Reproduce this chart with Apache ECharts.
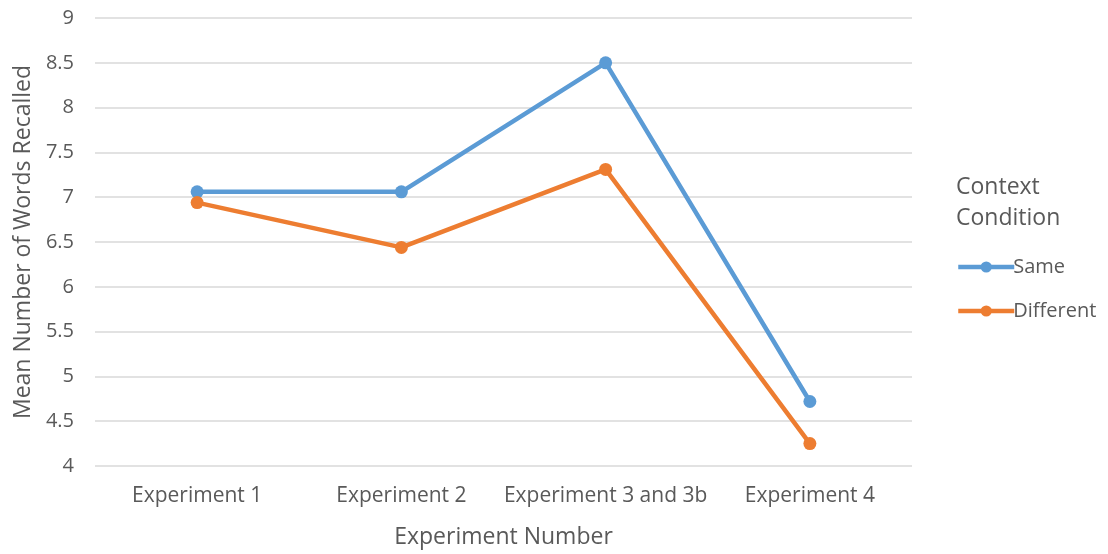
<!DOCTYPE html>
<html><head><meta charset="utf-8">
<script src="https://cdn.jsdelivr.net/npm/echarts@6/dist/echarts.min.js"></script>
<style>html,body{margin:0;padding:0;background:#fff}#c{width:1108px;height:554px}</style>
</head><body><div id="c"></div>
<script>
const categories = ["Experiment 1", "Experiment 2", "Experiment 3 and 3b", "Experiment 4"];
const sameValues = [7.06, 7.06, 8.5, 4.72];
const differentValues = [6.94, 6.44, 7.31, 4.25];
const seriesNames = ["Same", "Different"];
const chart = echarts.init(document.getElementById('c'));
const txt = '#595959';
const ff = '"Open Sans", sans-serif';
chart.setOption({
  animation: false,
  grid: {left: 95, right: 196, top: 18, bottom: 87},
  graphic: [
    {type: 'text', left: 956, top: 172, style: {text: 'Context\nCondition', fill: txt, font: '23px "Open Sans", sans-serif', lineHeight: 31}}
  ],
  legend: {
    orient: 'vertical', left: 951, top: 252, itemGap: 24, itemWidth: 56, itemHeight: 14,
    lineStyle: {width: 4.5},
    textStyle: {color: txt, fontSize: 20, fontFamily: ff, padding: [0,0,0,-6]},
    data: seriesNames
  },
  xAxis: {
    type: 'category', data: categories, boundaryGap: true,
    axisLine: {show: false}, axisTick: {show: false},
    axisLabel: {color: txt, fontSize: 21, fontFamily: ff, margin: 20, interval: 0},
    name: 'Experiment Number', nameLocation: 'middle', nameGap: 60,
    nameTextStyle: {color: txt, fontSize: 23, fontFamily: ff}
  },
  yAxis: {
    type: 'value', min: 4, max: 9, interval: 0.5,
    axisLine: {show: false}, axisTick: {show: false},
    splitLine: {lineStyle: {color: '#d9d9d9', width: 1.5}},
    axisLabel: {color: txt, fontSize: 20, fontFamily: ff, margin: 21},
    name: 'Mean Number of Words Recalled', nameLocation: 'middle', nameGap: 60,
    nameTextStyle: {color: txt, fontSize: 23, fontFamily: ff}
  },
  series: [
    {name: seriesNames[0], type: 'line', data: sameValues, color: '#5B9BD5', symbol: 'circle', symbolSize: 13, lineStyle: {width: 4.5}},
    {name: seriesNames[1], type: 'line', data: differentValues, color: '#ED7D31', symbol: 'circle', symbolSize: 13, lineStyle: {width: 4.5}}
  ]
});
</script></body></html>
